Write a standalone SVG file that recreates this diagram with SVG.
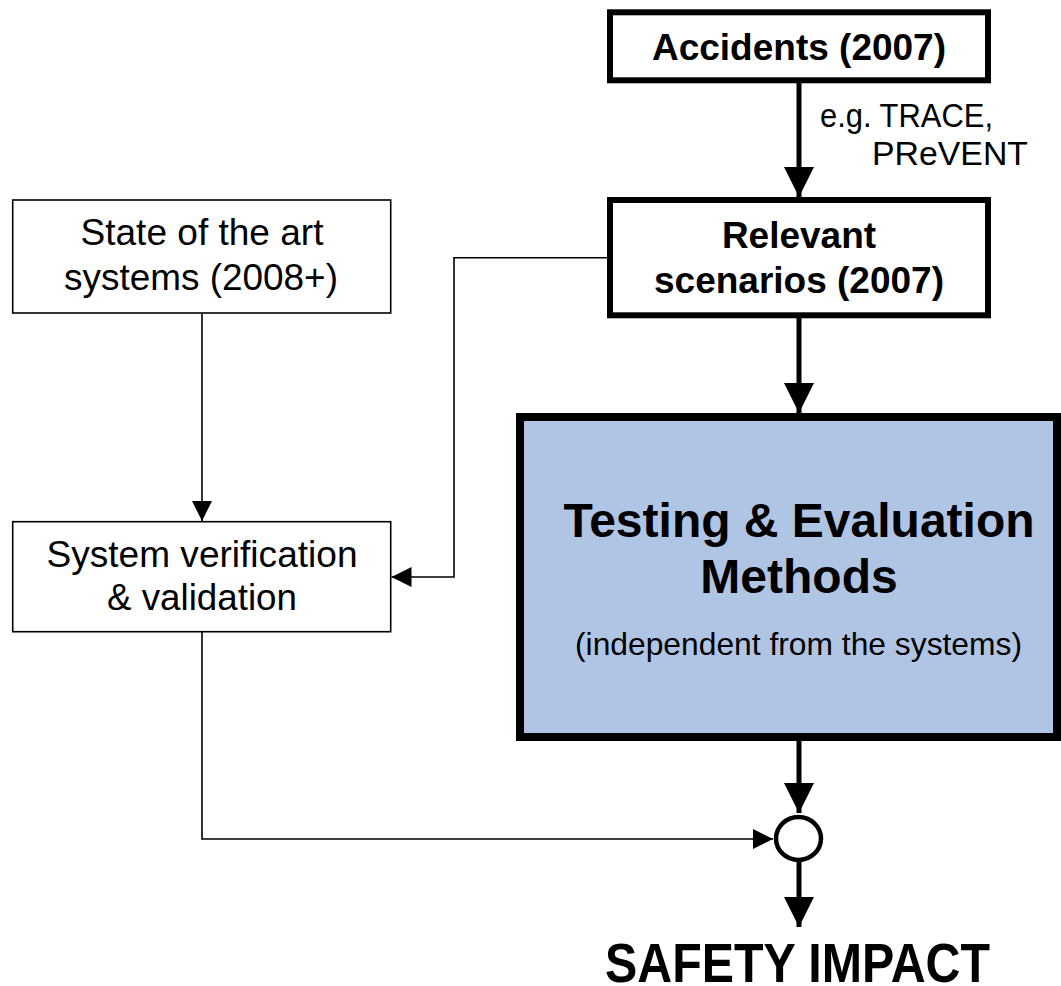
<svg xmlns="http://www.w3.org/2000/svg" width="1061" height="986" viewBox="0 0 1061 986">
<style>
.t{font-family:"Liberation Sans",Arial,Helvetica,sans-serif;fill:#000}
.b{font-weight:bold}
.thin{fill:#fff;stroke:#000;stroke-width:1.6}
.thick{fill:#fff;stroke:#000;stroke-width:6}
.c1{fill:none;stroke:#000;stroke-width:1.6}
.c2{fill:none;stroke:#000;stroke-width:5}
</style>
<defs>
<marker id="ah" markerUnits="userSpaceOnUse" markerWidth="30" markerHeight="30" viewBox="0 0 30 30" refX="30" refY="15" orient="auto">
<path d="M0,0 L30,15 L0,30 Z" fill="#000"/>
</marker>
<marker id="as" markerUnits="userSpaceOnUse" markerWidth="20" markerHeight="20" viewBox="0 0 20 20" refX="20" refY="10" orient="auto">
<path d="M0,0 L20,10 L0,20 Z" fill="#000"/>
</marker>
</defs>
<rect width="1061" height="986" fill="#fff"/>
<g id="connectors">
<line class="c2" x1="799" y1="83" x2="799" y2="197" marker-end="url(#ah)"/>
<line class="c2" x1="799" y1="318" x2="799" y2="413" marker-end="url(#ah)"/>
<line class="c2" x1="799" y1="741" x2="799" y2="813" marker-end="url(#ah)"/>
<line class="c2" x1="799" y1="860" x2="799" y2="927" marker-end="url(#ah)"/>
<line class="c1" x1="202" y1="314" x2="202" y2="521" marker-end="url(#as)"/>
<polyline class="c1" points="607,257.7 454,257.7 454,577 391.5,577" marker-end="url(#as)"/>
<polyline class="c1" points="202,632 202,839 773,839" marker-end="url(#as)"/>
<text class="t" x="820" y="127" font-size="33" textLength="173" lengthAdjust="spacingAndGlyphs">e.g. TRACE,</text>
<text class="t" x="872" y="165" font-size="33" textLength="156" lengthAdjust="spacingAndGlyphs">PReVENT</text>
</g>
<g id="accidents">
<rect class="thick" x="610" y="12.3" width="378" height="68"/>
<text class="t b" x="799" y="60" font-size="37" text-anchor="middle">Accidents (2007)</text>
</g>
<g id="relevant">
<rect class="thick" x="610" y="200" width="378" height="115.3"/>
<text class="t b" x="799" y="248" font-size="37" text-anchor="middle">Relevant</text>
<text class="t b" x="799" y="293" font-size="37" text-anchor="middle">scenarios (2007)</text>
</g>
<g id="state">
<rect class="thin" x="12.7" y="200" width="378" height="113"/>
<text class="t" x="202" y="245" font-size="37" text-anchor="middle" textLength="243" lengthAdjust="spacingAndGlyphs">State of the art</text>
<text class="t" x="201" y="290" font-size="37" text-anchor="middle" textLength="274" lengthAdjust="spacingAndGlyphs">systems (2008+)</text>
</g>
<g id="sysver">
<rect class="thin" x="12.7" y="521.7" width="378" height="110"/>
<text class="t" x="202" y="567" font-size="37" text-anchor="middle" textLength="311" lengthAdjust="spacingAndGlyphs">System verification</text>
<text class="t" x="202" y="610" font-size="37" text-anchor="middle" textLength="190" lengthAdjust="spacingAndGlyphs">&amp; validation</text>
</g>
<g id="testing">
<rect x="520" y="417" width="537" height="320" fill="#b0c4e3" stroke="#000" stroke-width="8"/>
<text class="t b" x="799" y="537" font-size="48" text-anchor="middle">Testing &amp; Evaluation</text>
<text class="t b" x="799" y="593" font-size="48" text-anchor="middle">Methods</text>
<text class="t" x="798.5" y="655" font-size="32" text-anchor="middle" textLength="447" lengthAdjust="spacingAndGlyphs">(independent from the systems)</text>
</g>
<g id="junction">
<ellipse cx="798.5" cy="838.5" rx="22.5" ry="21.5" fill="#fff" stroke="#000" stroke-width="4.5"/>
</g>
<g id="safety">
<text class="t b" x="605" y="982" font-size="56" textLength="385" lengthAdjust="spacingAndGlyphs">SAFETY IMPACT</text>
</g>
</svg>
